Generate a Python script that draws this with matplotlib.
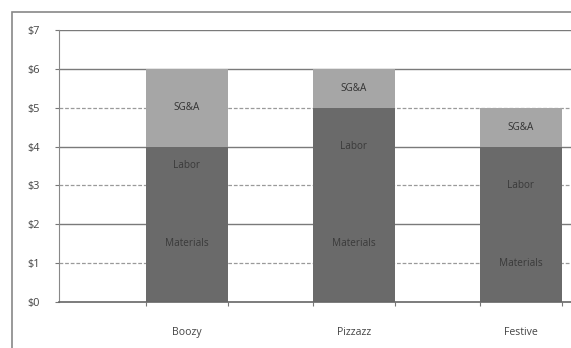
import numpy as np
import matplotlib.pyplot as plt
from matplotlib.patches import Rectangle

# Cost per unit, stacked by component
products = ["Boozy", "Pizzazz", "Festive"]
materials = [3, 3, 2]
labor = [1, 2, 2]
sga = [2, 1, 1]
yticks = [0, 1, 2, 3, 4, 5, 6, 7]

plt.rcParams['font.family'] = ['Open Sans', 'DejaVu Sans']

fig = plt.figure(figsize=(5.71, 3.48), dpi=100)
ax = fig.add_axes([59 / 571, 1 - 302 / 348, 1 - 59 / 571, (302 - 30) / 348])

x = np.arange(len(products))
w = 0.49
dark = "#6a6a6a"
light = "#a6a6a6"

# gridlines behind the bars
for v in yticks[1:]:
    if v % 2 == 0 or v == 7:
        ax.axhline(v, color="#7a7a7a", lw=1.0, zorder=0)
    else:
        ax.axhline(v, color="#9a9a9a", lw=0.9, ls=(0, (3, 1.5)), zorder=0)

ax.bar(x, materials, w, color=dark, zorder=2)
ax.bar(x, labor, w, bottom=materials, color=dark, zorder=2)
bottom2 = [m + l for m, l in zip(materials, labor)]
ax.bar(x, sga, w, bottom=bottom2, color=light, zorder=2)

# segment labels
for i in range(len(products)):
    ax.text(x[i], materials[i] / 2, "Materials", ha="center", va="center",
            fontsize=7.2, color="#3a3a3a", zorder=3)
    ax.text(x[i], materials[i] + labor[i] / 2, "Labor", ha="center", va="center",
            fontsize=7.2, color="#3a3a3a", zorder=3)
    ax.text(x[i], bottom2[i] + sga[i] / 2, "SG&A", ha="center", va="center",
            fontsize=7.2, color="#333333", zorder=3)

ax.set_ylim(0, 7)
ax.set_xlim(-0.766, 2.3)
ax.set_yticks(yticks)
ax.set_yticklabels(["$%d" % v for v in yticks], fontsize=7.8, color="#444444")
ax.tick_params(axis="y", length=3, width=0.8, color="#777777", pad=11)

ax.set_xticks(x)
ax.set_xticklabels(products, fontsize=7.6, color="#444444")
ax.tick_params(axis="x", which="major", length=0, pad=18)
edges = np.concatenate([x - w / 2, x + w / 2])
ax.set_xticks(edges, minor=True)
ax.tick_params(axis="x", which="minor", length=3, width=0.8, color="#777777")

for s in ["top", "right"]:
    ax.spines[s].set_visible(False)
ax.spines["left"].set_color("#888888")
ax.spines["bottom"].set_color("#666666")
ax.spines["bottom"].set_linewidth(1.2)

# outer chart border
fig.patches.append(Rectangle((12 / 571, -0.05), 1.1, 1 - 12 / 348 + 0.05,
                             transform=fig.transFigure, fill=False,
                             edgecolor="#888888", lw=1.2))

fig.savefig("out.png", dpi=100)
